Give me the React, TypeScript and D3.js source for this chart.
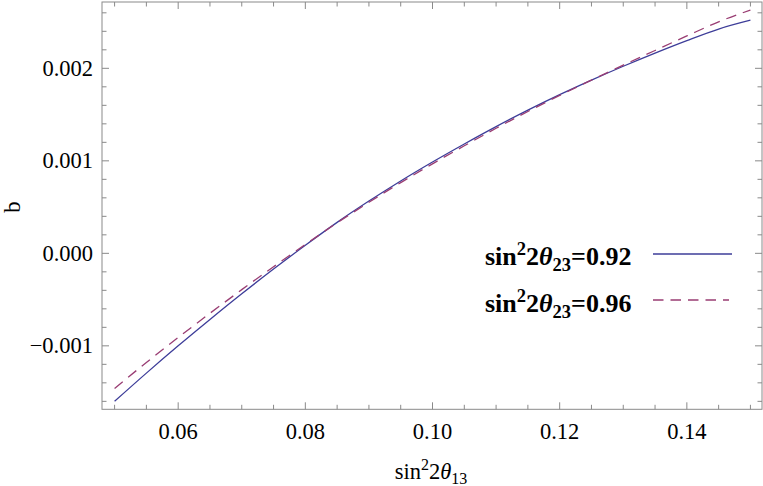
import React from "react";
import * as d3 from "d3";

const xValues = [0.05, 0.055, 0.06, 0.065, 0.07, 0.075, 0.08, 0.085, 0.09, 0.095, 0.1, 0.105, 0.11, 0.115, 0.12, 0.125, 0.13, 0.135, 0.14, 0.145, 0.15];
const series092 = [-0.0016, -0.001295, -0.001, -0.000715, -0.0004375, -0.00017, 0.0000875, 0.000335, 0.000565, 0.0007825, 0.0009875, 0.0011825, 0.00137, 0.0015475, 0.001715, 0.0018725, 0.0020225, 0.002165, 0.0023, 0.002425, 0.00252];
const series096 = [-0.00146, -0.00118, -0.00091, -0.000648, -0.0003925, -0.000145, 0.0000955, 0.00033, 0.000552, 0.0007645, 0.0009675, 0.0011625, 0.001352, 0.0015335, 0.001707, 0.0018725, 0.0020345, 0.002193, 0.00235, 0.002503, 0.00263];
const xMajorTicks = [0.06, 0.08, 0.1, 0.12, 0.14];
const xTickLabels = ["0.06", "0.08", "0.10", "0.12", "0.14"];
const yMajorTicks = [-0.001, 0, 0.001, 0.002];
const yTickLabels = ["\u22120.001", "0.000", "0.001", "0.002"];

const FRAME = { left: 102, right: 762, top: 2, bottom: 409.3 };
const frameColor = "#8a8a8a";
const blue = "#3d3d99";
const purple = "#993d73";
const font = "'Liberation Serif', 'Times New Roman', serif";

export default function App() {
  const x = d3.scaleLinear().domain([0.04802, 0.15182]).range([FRAME.left, FRAME.right]);
  const y = d3.scaleLinear().domain([-0.001686, 0.002717]).range([FRAME.bottom, FRAME.top]);

  const line = d3
    .line<number>()
    .x((_, i) => x(xValues[i]))
    .y((d) => y(d))
    .curve(d3.curveMonotoneX);

  const xMinor = d3.range(0, 21).map((i) => 0.05 + i * 0.005);
  const yMinor = d3.range(0, 22).map((i) => -0.0016 + i * 0.0002);
  const isMajor = (v: number, majors: number[]) => majors.some((m) => Math.abs(m - v) < 1e-9);

  const legendEntries = [
    { label: "=0.92", color: blue, dash: undefined as string | undefined, ty: 265, ly: 254, x2: 732 },
    { label: "=0.96", color: purple, dash: "10.5,7", ty: 312, ly: 300, x2: 729 },
  ];

  return (
    <svg width={763} height={486} style={{ position: "absolute", left: 0, top: 0, background: "#fff" }} fontFamily={font}>
      {/* curves */}
      <path d={line(series092) || ""} fill="none" stroke={blue} strokeWidth={1.3} />
      <path d={line(series096) || ""} fill="none" stroke={purple} strokeWidth={1.3} strokeDasharray="10.5,7" />

      {/* frame */}
      <rect x={FRAME.left} y={FRAME.top} width={FRAME.right - FRAME.left} height={FRAME.bottom - FRAME.top} fill="none" stroke={frameColor} strokeWidth={1} />

      {/* x ticks */}
      {xMinor.map((v, i) => {
        const len = isMajor(v, xMajorTicks) ? 7 : 4.5;
        const px = x(v);
        return (
          <g key={"xt" + i} stroke={frameColor} strokeWidth={1}>
            <line x1={px} x2={px} y1={FRAME.bottom} y2={FRAME.bottom - len} />
            <line x1={px} x2={px} y1={FRAME.top} y2={FRAME.top + len} />
          </g>
        );
      })}
      {/* y ticks */}
      {yMinor.map((v, i) => {
        const len = isMajor(v, yMajorTicks) ? 7 : 4.5;
        const py = y(v);
        return (
          <g key={"yt" + i} stroke={frameColor} strokeWidth={1}>
            <line x1={FRAME.left} x2={FRAME.left + len} y1={py} y2={py} />
            <line x1={FRAME.right} x2={FRAME.right - len} y1={py} y2={py} />
          </g>
        );
      })}

      {/* tick labels */}
      {xMajorTicks.map((v, i) => (
        <text key={"xl" + i} x={x(v)} y={439} textAnchor="middle" fontSize={22.5} fill="#000">
          {xTickLabels[i]}
        </text>
      ))}
      {yMajorTicks.map((v, i) => (
        <text key={"yl" + i} x={93} y={y(v) + 7.5} textAnchor="end" fontSize={22.5} fill="#000">
          {yTickLabels[i]}
        </text>
      ))}

      {/* axis labels */}
      <text x={431} y={479} textAnchor="middle" fontSize={22.5} fill="#000">
        sin
        <tspan dy={-9} fontSize={16}>2</tspan>
        <tspan dy={9}>2</tspan>
        <tspan fontStyle="italic">θ</tspan>
        <tspan dy={5} fontSize={16}>13</tspan>
      </text>
      <text transform="translate(20,207) rotate(-90)" textAnchor="middle" fontSize={22.5} fill="#000">
        b
      </text>

      {/* legend */}
      {legendEntries.map((e, i) => (
        <g key={"lg" + i}>
          <text x={485} y={e.ty} fontSize={26} fontWeight="bold" fill="#000">
            sin
            <tspan dy={-10} fontSize={18.5}>2</tspan>
            <tspan dy={10}>2</tspan>
            <tspan fontStyle="italic">θ</tspan>
            <tspan dy={6} fontSize={18.5}>23</tspan>
            <tspan dy={-6}>{e.label}</tspan>
          </text>
          <line x1={653} x2={e.x2} y1={e.ly} y2={e.ly} stroke={e.color} strokeWidth={1.3} strokeDasharray={e.dash} />
        </g>
      ))}
    </svg>
  );
}
